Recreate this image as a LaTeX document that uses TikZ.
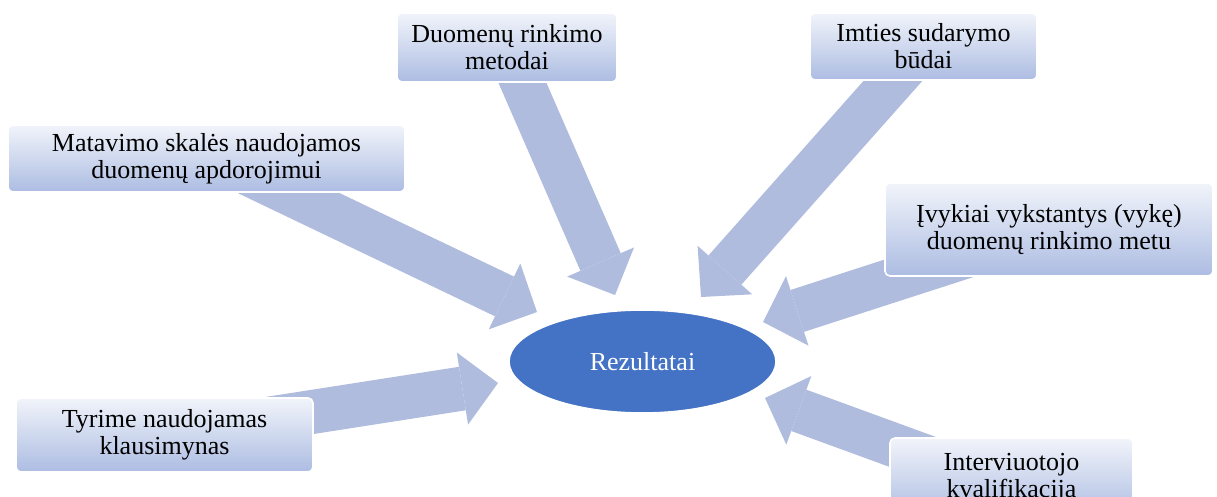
\documentclass[tikz,border=0pt]{standalone}
\usepackage{fontspec}
\setmainfont{Liberation Serif}
\usetikzlibrary{arrows.meta,backgrounds,shapes.geometric}
\definecolor{boxtop}{RGB}{241,244,250}
\definecolor{boxbottom}{RGB}{172,188,226}
\definecolor{arrowblue}{RGB}{175,188,222}
\definecolor{rezblue}{RGB}{68,114,196}

\begin{document}
\begin{tikzpicture}[x=0.5pt, y=-0.5pt,
    box/.style={rectangle, rounded corners=2.5pt, draw=white, line width=0.8pt,
        top color=boxtop, bottom color=boxbottom, align=center, inner sep=0pt,
        font=\fontsize{13}{13.5}\selectfont},
    rez/.style={ellipse, fill=rezblue, draw=white, line width=0.8pt, text=white,
        inner sep=0pt, minimum width=133.5pt, minimum height=51.5pt,
        font=\fontsize{13}{13.5}\selectfont},
    blockarrow/.style={draw=arrowblue, line width=22pt,
        -{Triangle[length=18pt, width=36.5pt, line width=0pt]}}]
    \useasboundingbox (0,0) rectangle (1217,497);

    % Centre
    \node[rez] (rez) at (642.5,361.5) {Rezultatai};

    % Boxes round it
    \node[box, minimum width=110pt, minimum height=34.5pt] (metodai) at (507,47.5) {Duomenų rinkimo\\metodai};
    \node[box, minimum width=113.5pt, minimum height=33.5pt] (budai) at (923.5,46.5) {Imties sudarymo\\būdai};
    \node[box, minimum width=198.5pt, minimum height=33.5pt] (skales) at (206.5,158.5) {Matavimo skalės naudojamos\\duomenų apdorojimui};
    \node[box, minimum width=164pt, minimum height=46.5pt] (ivykiai) at (1049,229.5) {Įvykiai vykstantys (vykę)\\duomenų rinkimo metu};
    \node[box, minimum width=148.5pt, minimum height=37pt] (klausimynas) at (164.5,435) {Tyrime naudojamas\\klausimynas};
    \node[box, minimum width=121.5pt, minimum height=40pt] (kvalifikacija) at (1011.5,478) {Interviuotojo\\kvalifikacija};

    % Arrow tips
    \coordinate (metodai-tip) at (615,295);
    \coordinate (budai-tip) at (701,297);
    \coordinate (skales-tip) at (537,312);
    \coordinate (ivykiai-tip) at (763,322);
    \coordinate (klausimynas-tip) at (498,383);
    \coordinate (kvalifikacija-tip) at (765,398);

    % Arrows, behind the boxes
    \begin{scope}[on background layer]
        \draw[blockarrow] (metodai.center) -- (metodai-tip);
        \draw[blockarrow] (budai.center) -- (budai-tip);
        \draw[blockarrow] ([xshift=5]skales.center) -- (skales-tip);
        \draw[blockarrow] (ivykiai.center) -- (ivykiai-tip);
        \draw[blockarrow] (klausimynas.center) -- (klausimynas-tip);
        \draw[blockarrow] ([yshift=-5]kvalifikacija.center) -- (kvalifikacija-tip);
    \end{scope}
\end{tikzpicture}
\end{document}
